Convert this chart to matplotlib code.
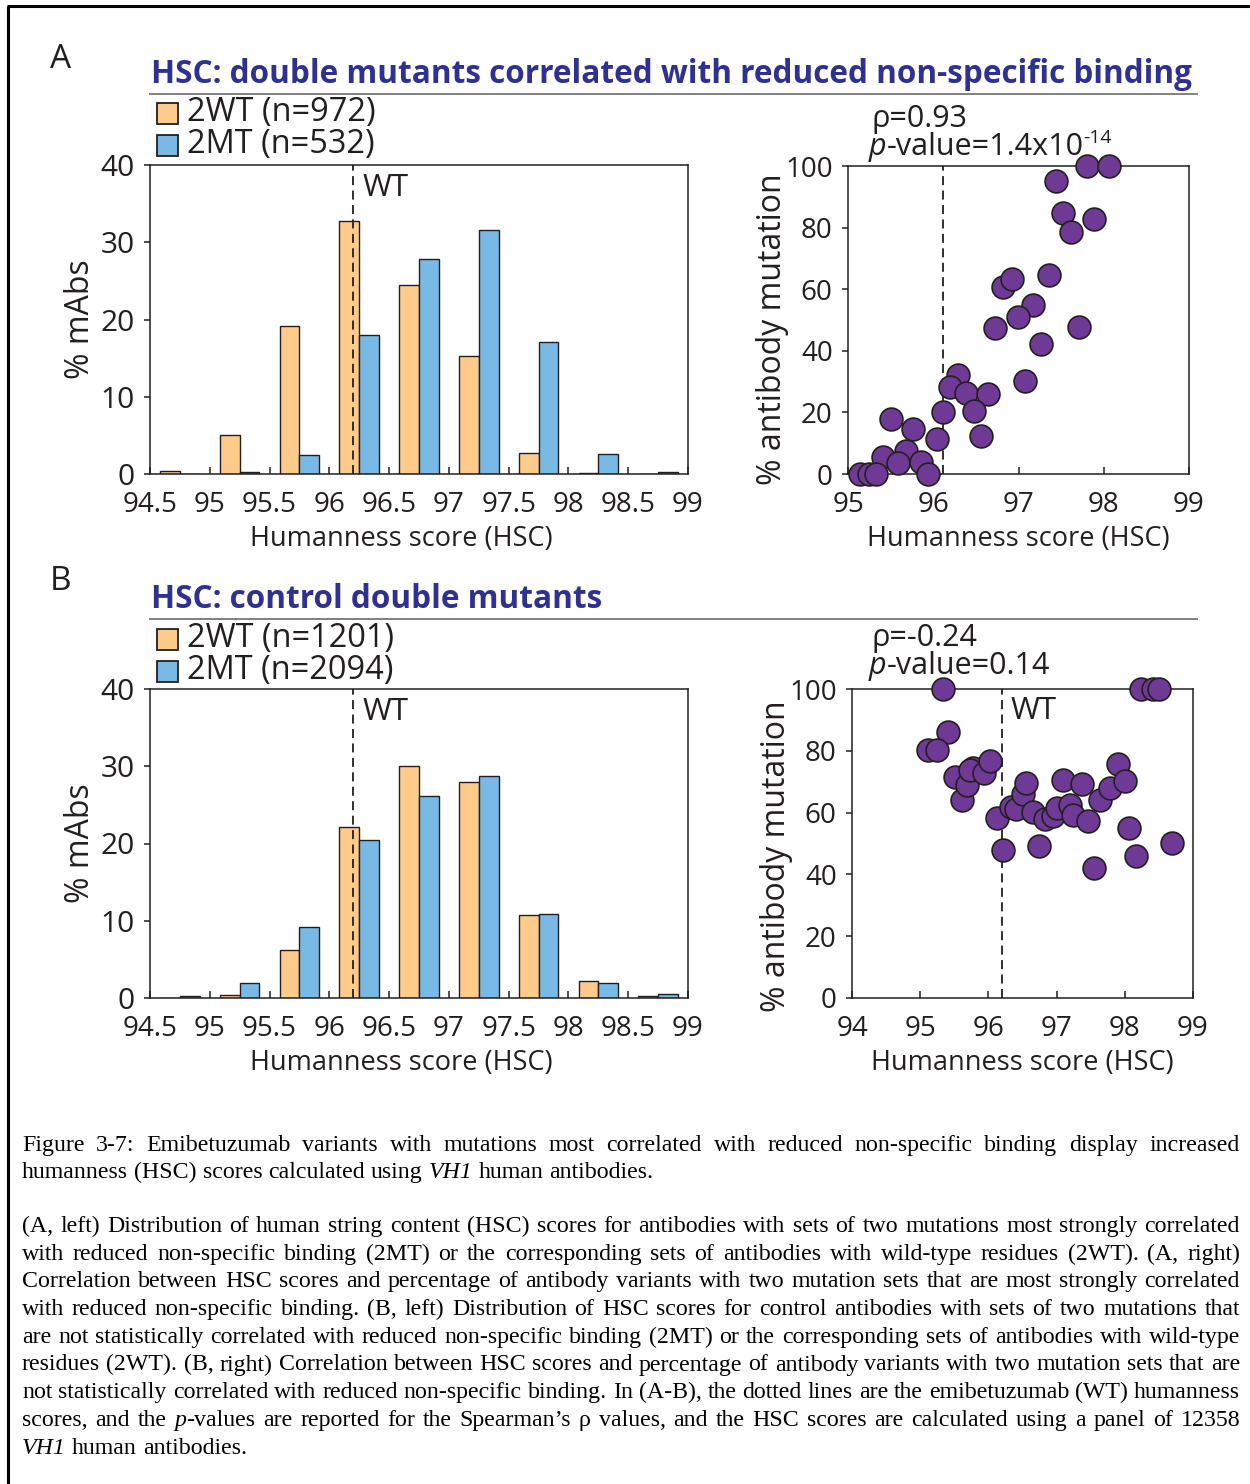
import numpy as np
import matplotlib
matplotlib.use("Agg")
import matplotlib.pyplot as plt
from matplotlib.patches import Rectangle

W, H = 1250, 1484
plt.rcParams["font.family"] = ["Open Sans", "DejaVu Sans"]

INK = "#231F20"
ORANGE = "#FECB8B"
BLUE = "#79B9E5"
PURPLE = "#6E3A96"
NAVY = "#2E3192"
RULE = "#808080"

# HSC histogram bins (width 0.5) and % of mAbs in each bin
BIN_CENTERS = np.arange(94.75, 99.0, 0.5)
A_WT = [0.4, 5.1, 19.1, 32.7, 24.5, 15.3, 2.7, 0.1, 0.0]
A_MT = [0.0, 0.2, 2.5, 18.0, 27.8, 31.6, 17.1, 2.6, 0.2]
B_WT = [0.05, 0.45, 6.2, 22.2, 30.0, 27.9, 10.7, 2.25, 0.25]
B_MT = [0.25, 1.9, 9.2, 20.4, 26.1, 28.7, 10.9, 2.0, 0.55]

# HSC score vs % antibody mutation, one point per mutation set
A_HSC = [97.80, 98.06, 97.44, 97.52, 97.89, 97.62, 97.36, 96.82, 96.92, 97.17,
         96.99, 96.73, 97.71, 97.26, 97.08, 96.29, 96.20, 96.39, 96.64, 96.48,
         96.11, 96.56, 96.04, 95.50, 95.76, 95.68, 95.41, 95.59, 95.86, 95.94,
         95.14, 95.25, 95.33]
A_PCT = [100, 100, 95.1, 84.6, 82.7, 78.7, 64.6, 60.8, 63.3, 54.9,
         50.9, 47.5, 47.6, 42.2, 30.3, 32.1, 28.4, 26.4, 26.0, 20.5,
         20.2, 12.3, 11.3, 17.9, 14.6, 7.5, 5.6, 3.5, 4.0, 0.0,
         0.0, 0.0, 0.0]
B_HSC = [95.33, 98.24, 98.41, 98.50, 95.41, 95.12, 95.24, 95.51, 95.61, 95.68,
         95.78, 95.73, 95.94, 96.03, 96.13, 96.21, 96.33, 96.41, 96.50, 96.55,
         96.66, 96.74, 96.83, 96.95, 97.00, 97.10, 97.20, 97.24, 97.37, 97.46,
         97.55, 97.63, 97.79, 97.90, 98.00, 98.06, 98.16, 98.69]
B_PCT = [100, 100, 100, 100, 86.0, 80.4, 80.2, 71.5, 64.2, 69.0,
         74.4, 73.9, 72.8, 76.6, 58.3, 47.8, 61.8, 61.2, 66.1, 69.6,
         60.1, 49.3, 58.0, 58.8, 61.5, 70.4, 62.4, 59.3, 69.3, 57.2,
         42.1, 64.2, 68.0, 75.7, 70.1, 55.0, 45.8, 50.2]

WT_HIST = 96.2
WT_SCAT_A = 96.12
WT_SCAT_B = 96.2

TICK_SIZE = 20
XLAB_SIZE = 19.5
YLAB_SIZE = 23
NOTE_SIZE = 22

fig = plt.figure(figsize=(W / 100, H / 100), dpi=100)
fig.patch.set_facecolor("white")

# full-page overlay in pixel units for headings, legends and caption
ov = fig.add_axes([0, 0, 1, 1])
ov.set_xlim(0, W)
ov.set_ylim(H, 0)
ov.axis("off")
renderer = fig.canvas.get_renderer()


def axes_px(l, t, r, b):
    return fig.add_axes([l / W, 1 - b / H, (r - l) / W, (b - t) / H])


def style_axes(ax):
    for s in ax.spines.values():
        s.set_linewidth(1.1)
        s.set_color(INK)
    ax.tick_params(axis="x", direction="in", length=5, width=1.1, pad=12,
                   labelsize=TICK_SIZE, colors=INK)
    ax.tick_params(axis="y", direction="out", length=4, width=1.1, pad=7,
                   labelsize=TICK_SIZE, colors=INK)


def hist_panel(box, wt, mt, wt_x):
    ax = axes_px(*box)
    w = 0.1655
    ax.bar(BIN_CENTERS - w / 2, wt, width=w, color=ORANGE, edgecolor=INK, lw=1.0)
    ax.bar(BIN_CENTERS + w / 2, mt, width=w, color=BLUE, edgecolor=INK, lw=1.0)
    ax.axvline(wt_x, color=INK, lw=1.3, ls=(0, (5, 3)))
    ax.annotate("WT", xy=(wt_x, 1), xycoords=("data", "axes fraction"),
                xytext=(9, -23), textcoords="offset pixels", va="center",
                fontsize=22.5, color=INK)
    ax.set_xlim(94.5, 99)
    ax.set_ylim(0, 40)
    ticks = np.arange(94.5, 99.01, 0.5)
    ax.set_xticks(ticks)
    ax.set_xticklabels([f"{t:g}" for t in ticks])
    ax.set_yticks(range(0, 41, 10))
    style_axes(ax)
    ax.tick_params(axis="y", labelsize=21.5)
    ax.set_xlabel("Humanness score (HSC)", fontsize=XLAB_SIZE, color=INK, va="center")
    ax.xaxis.set_label_coords(0.468, -0.21)
    ax.set_ylabel("% mAbs", fontsize=YLAB_SIZE, color=INK, va="center")
    ax.yaxis.set_label_coords(-0.13, 0.5)
    return ax


def scatter_panel(box, hsc, pct, xlim, wt_x, wt_label=False, label_y=0.47):
    ax = axes_px(*box)
    ax.scatter(hsc, pct, s=270, c=PURPLE, edgecolors=INK, linewidths=1.2,
               clip_on=False, zorder=3)
    ax.axvline(wt_x, color=INK, lw=1.3, ls=(0, (5, 3)), zorder=2)
    if wt_label:
        ax.annotate("WT", xy=(wt_x, 1), xycoords=("data", "axes fraction"),
                    xytext=(9, -22), textcoords="offset pixels", va="center",
                    fontsize=22.5, color=INK)
    ax.set_xlim(*xlim)
    ax.set_ylim(0, 100)
    ax.set_xticks(range(xlim[0], xlim[1] + 1))
    ax.set_yticks(range(0, 101, 20))
    style_axes(ax)
    ax.set_xlabel("Humanness score (HSC)", fontsize=XLAB_SIZE, color=INK, va="center")
    ax.xaxis.set_label_coords(0.5, -0.21)
    ax.set_ylabel("% antibody mutation", fontsize=YLAB_SIZE, color=INK, va="center")
    ax.yaxis.set_label_coords(-0.22, label_y)
    return ax


def runs(x, y, parts):
    # draw consecutive pieces of text on one baseline
    for s, kw, dy in parts:
        t = ov.text(x, y + dy, s, ha="left", va="baseline", color=INK, **kw)
        x += t.get_window_extent(renderer).width
    return x


def heading(letter, ly, title, ty, rule_y):
    ov.text(50, ly, letter, fontsize=24, color=INK, va="center", ha="left")
    ov.text(151, ty, title, fontsize=22.7, fontweight="bold", color=NAVY,
            va="baseline", ha="left")
    ov.plot([150, 1197], [rule_y, rule_y], color=RULE, lw=1.4)


def legend(y0, labels):
    for i, (lab, col) in enumerate(zip(labels, [ORANGE, BLUE])):
        yc = y0 + i * 32
        ov.add_patch(Rectangle((157, yc - 10), 21, 21, facecolor=col,
                               edgecolor=INK, lw=1.3))
        ov.text(187, yc, lab, fontsize=23.4, color=INK, va="center", ha="left")


# page frame (left and top edges)
ov.plot([8, 8], [H, 6], color="black", lw=2.2, solid_capstyle="butt")
ov.plot([7, W], [6, 6], color="black", lw=2.2, solid_capstyle="butt")

# panel A
heading("A", 60, "HSC: double mutants correlated with reduced non-specific binding", 83, 94)
legend(113, ["2WT (n=972)", "2MT (n=532)"])
hist_panel((150, 165, 688, 474), A_WT, A_MT, WT_HIST)
scatter_panel((848, 166, 1189, 474), A_HSC, A_PCT, (95, 99), WT_SCAT_A)
runs(871, 127, [("ρ=0.93", dict(fontsize=NOTE_SIZE), 0)])
runs(869, 155, [("p", dict(fontsize=NOTE_SIZE, style="italic"), 0),
                ("-value=1.4x10", dict(fontsize=NOTE_SIZE), 0),
                ("-14", dict(fontsize=14), -12)])

# panel B
heading("B", 581, "HSC: control double mutants", 608, 619)
legend(639, ["2WT (n=1201)", "2MT (n=2094)"])
hist_panel((150, 689, 688, 998), B_WT, B_MT, WT_HIST)
scatter_panel((852, 689, 1193, 998), B_HSC, B_PCT, (94, 99), WT_SCAT_B,
              wt_label=True, label_y=0.46)
runs(871, 646, [("ρ=-0.24", dict(fontsize=NOTE_SIZE), 0)])
runs(869, 674, [("p", dict(fontsize=NOTE_SIZE, style="italic"), 0),
                ("-value=0.14", dict(fontsize=NOTE_SIZE), 0)])

# caption, justified like the page body
CAP_SIZE = 17.2
CAP_FONT = "Liberation Serif"
CAP_X0, CAP_X1 = 22, 1240
para1 = [
    "Figure 3-7: Emibetuzumab variants with mutations most correlated with reduced non-specific binding display increased",
    "humanness (HSC) scores calculated using _VH1_ human antibodies.",
]
para2 = [
    "(A, left) Distribution of human string content (HSC) scores for antibodies with sets of two mutations most strongly correlated",
    "with reduced non-specific binding (2MT) or the corresponding sets of antibodies with wild-type residues (2WT). (A, right)",
    "Correlation between HSC scores and percentage of antibody variants with two mutation sets that are most strongly correlated",
    "with reduced non-specific binding. (B, left) Distribution of HSC scores for control antibodies with sets of two mutations that",
    "are not statistically correlated with reduced non-specific binding (2MT) or the corresponding sets of antibodies with wild-type",
    "residues (2WT). (B, right) Correlation between HSC scores and percentage of antibody variants with two mutation sets that are",
    "not statistically correlated with reduced non-specific binding. In (A-B), the dotted lines are the emibetuzumab (WT) humanness",
    "scores, and the _p_-values are reported for the Spearman’s ρ values, and the HSC scores are calculated using a panel of 12358",
    "_VH1_ human antibodies.",
]


def word_parts(word):
    pieces = word.split("_")
    return [(p, i % 2 == 1) for i, p in enumerate(pieces) if p]


def text_width(s, italic):
    t = ov.text(0, 0, s, fontsize=CAP_SIZE, family=CAP_FONT,
                style="italic" if italic else "normal")
    w = t.get_window_extent(renderer).width
    t.remove()
    return w


SPACE = text_width("a a", False) - text_width("aa", False)


def caption_line(line, y, justify):
    words = [word_parts(w) for w in line.split(" ")]
    widths = [sum(text_width(p, it) for p, it in w) for w in words]
    gap = SPACE
    if justify and len(words) > 1:
        gap = (CAP_X1 - CAP_X0 - sum(widths)) / (len(words) - 1)
    x = CAP_X0
    for w, wd in zip(words, widths):
        xx = x
        for p, it in w:
            t = ov.text(xx, y, p, fontsize=CAP_SIZE, family=CAP_FONT,
                        style="italic" if it else "normal", color="black",
                        va="baseline", ha="left")
            xx += t.get_window_extent(renderer).width
        x += wd + gap


for i, line in enumerate(para1):
    caption_line(line, 1151 + i * 27.3, i < len(para1) - 1)
for i, line in enumerate(para2):
    caption_line(line, 1232 + i * 27.7, i < len(para2) - 1)

fig.savefig("out.png", dpi=100, facecolor="white")
